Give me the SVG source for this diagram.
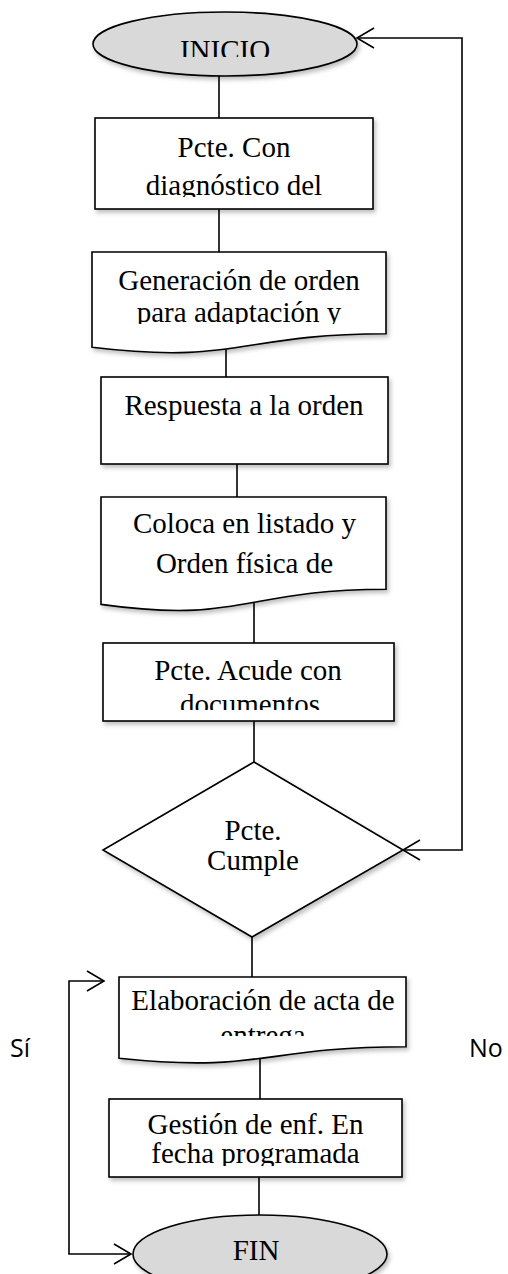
<svg xmlns="http://www.w3.org/2000/svg" width="508" height="1274" viewBox="0 0 508 1274">
<style>
.shape{fill:#fff;stroke:#000;stroke-width:1.6}
.term{fill:#d9d9d9;stroke:#000;stroke-width:1.6}
.t{font-family:"Liberation Serif","Times New Roman",serif;font-size:29px;fill:#000;text-anchor:middle}
.lbl{font-family:"Open Sans","Liberation Sans",sans-serif;font-size:25px;fill:#000}
.c{fill:none;stroke:#000;stroke-width:1.6}
</style>
<defs>
<filter id="sh" x="-10%" y="-10%" width="130%" height="130%">
<feDropShadow dx="2" dy="3" stdDeviation="2" flood-color="#000" flood-opacity="0.25"/>
</filter>
<marker id="ah" markerWidth="20" markerHeight="24" refX="18" refY="12" orient="auto-start-reverse" markerUnits="userSpaceOnUse">
<path d="M1,2 L18,12 L1,22" fill="none" stroke="#000" stroke-width="1.6"/>
</marker>
<clipPath id="cp0"><rect x="0" y="0" width="508" height="57"/></clipPath>
<clipPath id="cp1"><rect x="0" y="0" width="508" height="197"/></clipPath>
<clipPath id="cp2"><rect x="0" y="0" width="508" height="324"/></clipPath>
<clipPath id="cp5"><rect x="0" y="0" width="508" height="710"/></clipPath>
<clipPath id="cp6"><rect x="0" y="0" width="508" height="1036"/></clipPath>
<clipPath id="cp7"><rect x="0" y="0" width="508" height="1166"/></clipPath>
</defs>

<g id="connectors">
<line class="c" x1="219" y1="76" x2="219" y2="118"/>
<line class="c" x1="219" y1="209" x2="219" y2="252"/>
<line class="c" x1="226" y1="338" x2="226" y2="377"/>
<line class="c" x1="237" y1="464" x2="237" y2="507"/>
<line class="c" x1="254" y1="602" x2="254" y2="643"/>
<line class="c" x1="254" y1="721" x2="254" y2="762"/>
<line class="c" x1="252" y1="937" x2="252" y2="977"/>
<line class="c" x1="260" y1="1058" x2="260" y2="1099"/>
<line class="c" x1="259" y1="1177" x2="259" y2="1215"/>
<polyline class="c" points="403,850 462,850 462,38 357,38" marker-start="url(#ah)" marker-end="url(#ah)"/>
<polyline class="c" points="104,981 69,981 69,1254 131,1254" marker-start="url(#ah)" marker-end="url(#ah)"/>
</g>

<g id="inicio">
<ellipse class="term" cx="225" cy="44" rx="132" ry="32" filter="url(#sh)"/>
<text class="t" x="225" y="60" font-size="28" clip-path="url(#cp0)">INICIO</text>
</g>

<g id="n1">
<rect class="shape" x="95" y="118" width="278" height="91" filter="url(#sh)"/>
<g clip-path="url(#cp1)">
<text class="t" x="234" y="157">Pcte. Con</text>
<text class="t" x="234" y="195">diagnóstico del</text>
</g>
</g>

<g id="n2">
<path class="shape" d="M92,252 H386 V333.8 C239,333.8 239,365 92,347.3 Z" filter="url(#sh)"/>
<g clip-path="url(#cp2)">
<text class="t" x="239" y="290">Generación de orden</text>
<text class="t" x="239" y="322">para adaptación y</text>
</g>
</g>

<g id="n3">
<rect class="shape" x="101" y="377" width="287" height="87" filter="url(#sh)"/>
<text class="t" x="244" y="415">Respuesta a la orden</text>
</g>

<g id="n4">
<path class="shape" d="M101,497 H386 V589.2 C243.5,589.2 243.5,624.4 101,604.4 Z" filter="url(#sh)"/>
<text class="t" x="244.5" y="533">Coloca en listado y</text>
<text class="t" x="244.5" y="573">Orden física de</text>
</g>

<g id="n5">
<rect class="shape" x="103" y="643" width="291" height="78" filter="url(#sh)"/>
<g clip-path="url(#cp5)">
<text class="t" x="248" y="680">Pcte. Acude con</text>
<text class="t" x="250" y="714">documentos</text>
</g>
</g>

<g id="decision">
<polygon class="shape" points="254,762 403,850 252,937 103,850" filter="url(#sh)"/>
<text class="t" x="253" y="840" font-size="26">Pcte.</text>
<text class="t" x="253" y="870" font-size="26">Cumple</text>
</g>

<g id="n6">
<path class="shape" d="M119,977 H406 V1046.8 C262.5,1046.8 262.5,1073.4 119,1058.3 Z" filter="url(#sh)"/>
<g clip-path="url(#cp6)">
<text class="t" x="263" y="1010" font-size="27">Elaboración de acta de</text>
<text class="t" x="263" y="1045" font-size="27">entrega</text>
</g>
</g>

<g id="n7">
<rect class="shape" x="109" y="1099" width="293" height="78" filter="url(#sh)"/>
<g clip-path="url(#cp7)">
<text class="t" x="255.5" y="1134" font-size="26">Gestión de enf. En</text>
<text class="t" x="255.5" y="1163" font-size="26">fecha programada</text>
</g>
</g>

<g id="fin">
<ellipse class="term" cx="260" cy="1254" rx="127" ry="39" filter="url(#sh)"/>
<text class="t" x="256" y="1260" font-size="26">FIN</text>
</g>

<g id="labels">
<text class="lbl" x="10" y="1057">Sí</text>
<text class="lbl" x="469" y="1057">No</text>
</g>
</svg>
